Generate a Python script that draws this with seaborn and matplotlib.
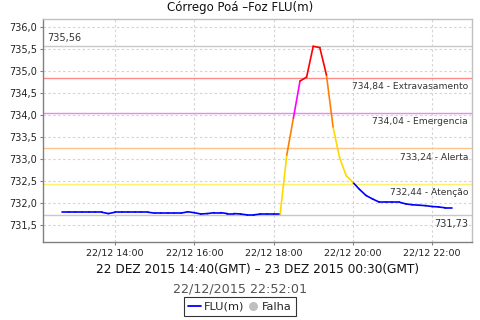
import numpy as np
import pandas as pd
import matplotlib
matplotlib.use("Agg")
import matplotlib.pyplot as plt
import matplotlib.dates as mdates
from matplotlib.ticker import FuncFormatter, FixedLocator
from matplotlib.lines import Line2D
import seaborn as sns

# ---------------- data ----------------
times = pd.date_range("2015-12-22 12:40", "2015-12-22 22:30", freq="10min")
levels = [
    731.79, 731.79, 731.79, 731.79, 731.79, 731.79, 731.79, 731.76, 731.79, 731.79,
    731.79, 731.79, 731.79, 731.79, 731.77, 731.77, 731.77, 731.77, 731.77, 731.80,
    731.78, 731.75, 731.76, 731.78, 731.78, 731.76, 731.76, 731.75, 731.73, 731.73,
    731.75, 731.75, 731.75, 731.75, 733.09, 733.93, 734.77, 734.86, 735.56, 735.53,
    734.91, 733.73, 733.02, 732.62, 732.47, 732.31, 732.17, 732.09, 732.02, 732.02,
    732.02, 732.02, 731.98, 731.96, 731.95, 731.94, 731.92, 731.91, 731.89, 731.89,
]
threshold_values = [734.84, 734.04, 733.24, 732.44]
threshold_names = ["Extravasamento", "Emergencia", "Alerta", "Atenção"]
threshold_line_colors = ["#FF8A8A", "#EE88EE", "#FFC48A", "#FFF070"]
level_cats = ["red", "magenta", "orange", "yellow", "blue"]
level_palette = {"red": "#FF0000", "magenta": "#FF00FF", "orange": "#FF8000",
                 "yellow": "#FFD800", "blue": "#0000FF"}
max_level = 735.56
min_level = 731.73
y_ticks = [731.5, 732.0, 732.5, 733.0, 733.5, 734.0, 734.5, 735.0, 735.5, 736.0]
x_ticks = ["2015-12-22 14:00", "2015-12-22 16:00", "2015-12-22 18:00",
           "2015-12-22 20:00", "2015-12-22 22:00"]
title = "Córrego Poá –Foz FLU(m)"
period_label = "22 DEZ 2015 14:40(GMT) – 23 DEZ 2015 00:30(GMT)"
stamp_label = "22/12/2015 22:52:01"


def category(v):
    for val, cat in zip(threshold_values, level_cats[:4]):
        if v >= val:
            return cat
    return "blue"


rows = []
for i in range(len(levels) - 1):
    c = category(levels[i + 1])
    rows.append({"seg": i, "time": times[i], "level": levels[i], "cat": c})
    rows.append({"seg": i, "time": times[i + 1], "level": levels[i + 1], "cat": c})
df = pd.DataFrame(rows)

# ---------------- figure ----------------
sns.set_theme(style="white")
plt.rcParams["font.family"] = ["DejaVu Sans"]

fig = plt.figure(figsize=(4.8, 3.2), dpi=100)
ax = fig.add_axes([43 / 480, 1 - 242 / 320, (472 - 43) / 480, (242 - 19) / 320])

# reference lines
ax.axhline(max_level, color="#C8C8C8", lw=1.0, zorder=1)
ax.axhline(min_level, color="#C8C8C8", lw=1.0, zorder=1)
for val, col in zip(threshold_values, threshold_line_colors):
    ax.axhline(val, color=col, lw=1.0, zorder=1)

sns.lineplot(data=df, x="time", y="level", hue="cat", units="seg",
             estimator=None, palette=level_palette, legend=False,
             lw=1.2, ax=ax, zorder=3)

ax.set_xlim(pd.Timestamp("2015-12-22 12:11"), pd.Timestamp("2015-12-22 23:00:20"))
ax.set_ylim(731.114, 736.18)
ax.xaxis.set_major_locator(FixedLocator(mdates.date2num(pd.to_datetime(x_ticks))))
ax.xaxis.set_major_formatter(mdates.DateFormatter("%d/%m %H:%M"))
ax.set_yticks(y_ticks)
ax.yaxis.set_major_formatter(FuncFormatter(lambda v, p: f"{v:.1f}".replace(".", ",")))
ax.set_xlabel("")
ax.set_ylabel("")

ax.grid(True, color="#D4D4D4", lw=0.8, linestyle=(0, (2.2, 2.2)))
ax.tick_params(axis="both", which="major", length=2.5, width=0.8, color="#808080",
               labelsize=7, labelcolor="#222222", pad=2, left=True, bottom=True)
ax.tick_params(axis="x", labelsize=6.8)
for s in ["left", "bottom"]:
    ax.spines[s].set_color("#808080")
    ax.spines[s].set_linewidth(1.0)
for s in ["top", "right"]:
    ax.spines[s].set_color("#C0C0C0")
    ax.spines[s].set_linewidth(1.0)

# threshold labels
for val, name in zip(threshold_values, threshold_names):
    ax.annotate(f"{val:.2f}".replace(".", ",") + " - " + name,
                xy=(0.991, val), xycoords=("axes fraction", "data"),
                xytext=(0, -3), textcoords="offset points",
                ha="right", va="top", fontsize=6.6, color="#333333")
ax.annotate(f"{min_level:.2f}".replace(".", ","),
            xy=(0.991, min_level), xycoords=("axes fraction", "data"),
            xytext=(0, -3), textcoords="offset points",
            ha="right", va="top", fontsize=7, color="#333333")
ax.annotate(f"{max_level:.2f}".replace(".", ","),
            xy=(0.009, max_level), xycoords=("axes fraction", "data"),
            xytext=(0, 2.5), textcoords="offset points",
            ha="left", va="bottom", fontsize=7, color="#333333")

# texts
fig.text(0.5, 1 - 8 / 320, title, ha="center", va="center", fontsize=8.5, color="#111111")
fig.text(257.5 / 480, 1 - 269 / 320, period_label, ha="center", va="center",
         fontsize=8.7, color="#111111")
fig.text(0.5, 1 - 289 / 320, stamp_label, ha="center", va="center",
         fontsize=9.2, color="#555555")

handles = [Line2D([], [], color="#0000FF", lw=1.3),
           Line2D([], [], color="#C0C0C0", marker="o", lw=0, markersize=5.5)]
leg = fig.legend(handles, ["FLU(m)", "Falha"], loc="center",
                 bbox_to_anchor=(0.5, 1 - 306.5 / 320), ncol=2, fontsize=8.2,
                 frameon=True, fancybox=False, edgecolor="black",
                 handlelength=1.1, handletextpad=0.25, columnspacing=0.25,
                 borderpad=0.35, borderaxespad=0, handleheight=0.9)
leg.get_frame().set_linewidth(0.8)

fig.savefig("out.png", dpi=100)
